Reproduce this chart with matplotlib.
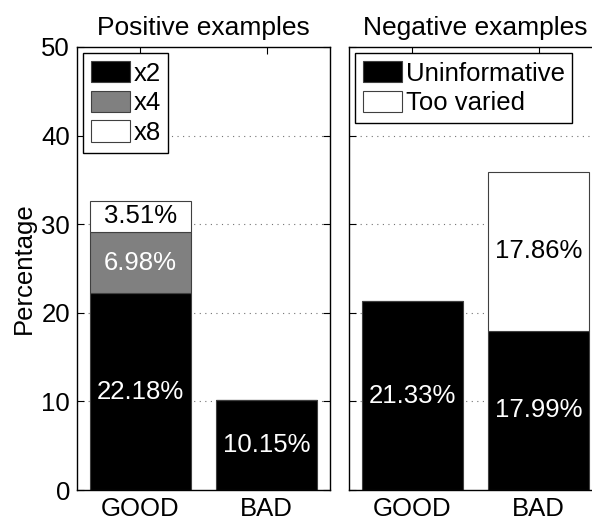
import numpy as np
import matplotlib.pyplot as plt

plt.rcParams['font.family'] = ['Liberation Sans', 'DejaVu Sans']
plt.rcParams['font.size'] = 18.5

cats = ['GOOD', 'BAD']

# positive examples, stacked
pos_x2 = [22.18, 10.15]
pos_x4 = [6.98, 0.0]
pos_x8 = [3.51, 0.0]

# negative examples, stacked
neg_uninf = [21.33, 17.99]
neg_varied = [0.0, 17.86]

fig = plt.figure(figsize=(5.92, 5.25), dpi=100)
ax1 = fig.add_axes([77/592, 35/525, 253/592, 443/525])
ax2 = fig.add_axes([349/592, 35/525, 253/592, 443/525])

x = np.arange(1, len(cats) + 1)
w = 0.8
ec = '0.25'


def style(ax, title):
    ax.set_xlim(0.5, 2.5)
    ax.set_ylim(0, 50)
    ax.set_yticks([0, 10, 20, 30, 40, 50])
    ax.set_xticks(x)
    ax.set_xticklabels(cats)
    ax.tick_params(direction='in', top=True, right=True, length=5, width=0.8, pad=5)
    for y in [10, 20, 30, 40]:
        ax.axhline(y, color='0.45', ls=(0, (1, 4)), lw=0.8, zorder=0)
    for s in ax.spines.values():
        s.set_linewidth(1.0)
    ax.set_title(title, fontsize=19, pad=9)


def label(ax, xs, bottoms, vals, color):
    for xi, b, v in zip(xs, bottoms, vals):
        if v > 0:
            ax.text(xi, b + v / 2, '%.2f%%' % v, ha='center', va='center',
                    color=color, fontsize=18.5)


def legend(ax):
    leg = ax.legend(loc='upper left', handlelength=1.5, handleheight=0.9,
                    handletextpad=0.15, borderpad=0.3, labelspacing=0.2,
                    borderaxespad=0.25, fancybox=False, framealpha=1,
                    edgecolor='black')
    leg.get_frame().set_linewidth(1.0)


# left panel
b1 = np.array(pos_x2)
b2 = b1 + np.array(pos_x4)
ax1.bar(x, pos_x2, w, color='black', edgecolor=ec, lw=0.8, label='x2', zorder=2)
ax1.bar(x, pos_x4, w, bottom=b1, color='#808080', edgecolor=ec, lw=0.8, label='x4', zorder=2)
ax1.bar(x, pos_x8, w, bottom=b2, color='white', edgecolor=ec, lw=0.8, label='x8', zorder=2)
label(ax1, x, np.zeros(2), pos_x2, 'white')
label(ax1, x, b1, pos_x4, 'white')
label(ax1, x, b2, pos_x8, 'black')
style(ax1, 'Positive examples')
ax1.set_ylabel('Percentage', labelpad=4)
legend(ax1)

# right panel
c1 = np.array(neg_uninf)
ax2.bar(x, neg_uninf, w, color='black', edgecolor=ec, lw=0.8, label='Uninformative', zorder=2)
ax2.bar(x, neg_varied, w, bottom=c1, color='white', edgecolor=ec, lw=0.8, label='Too varied', zorder=2)
label(ax2, x, np.zeros(2), neg_uninf, 'white')
label(ax2, x, c1, neg_varied, 'black')
style(ax2, 'Negative examples')
ax2.set_yticklabels([])
legend(ax2)

fig.savefig('out.png', dpi=100)
